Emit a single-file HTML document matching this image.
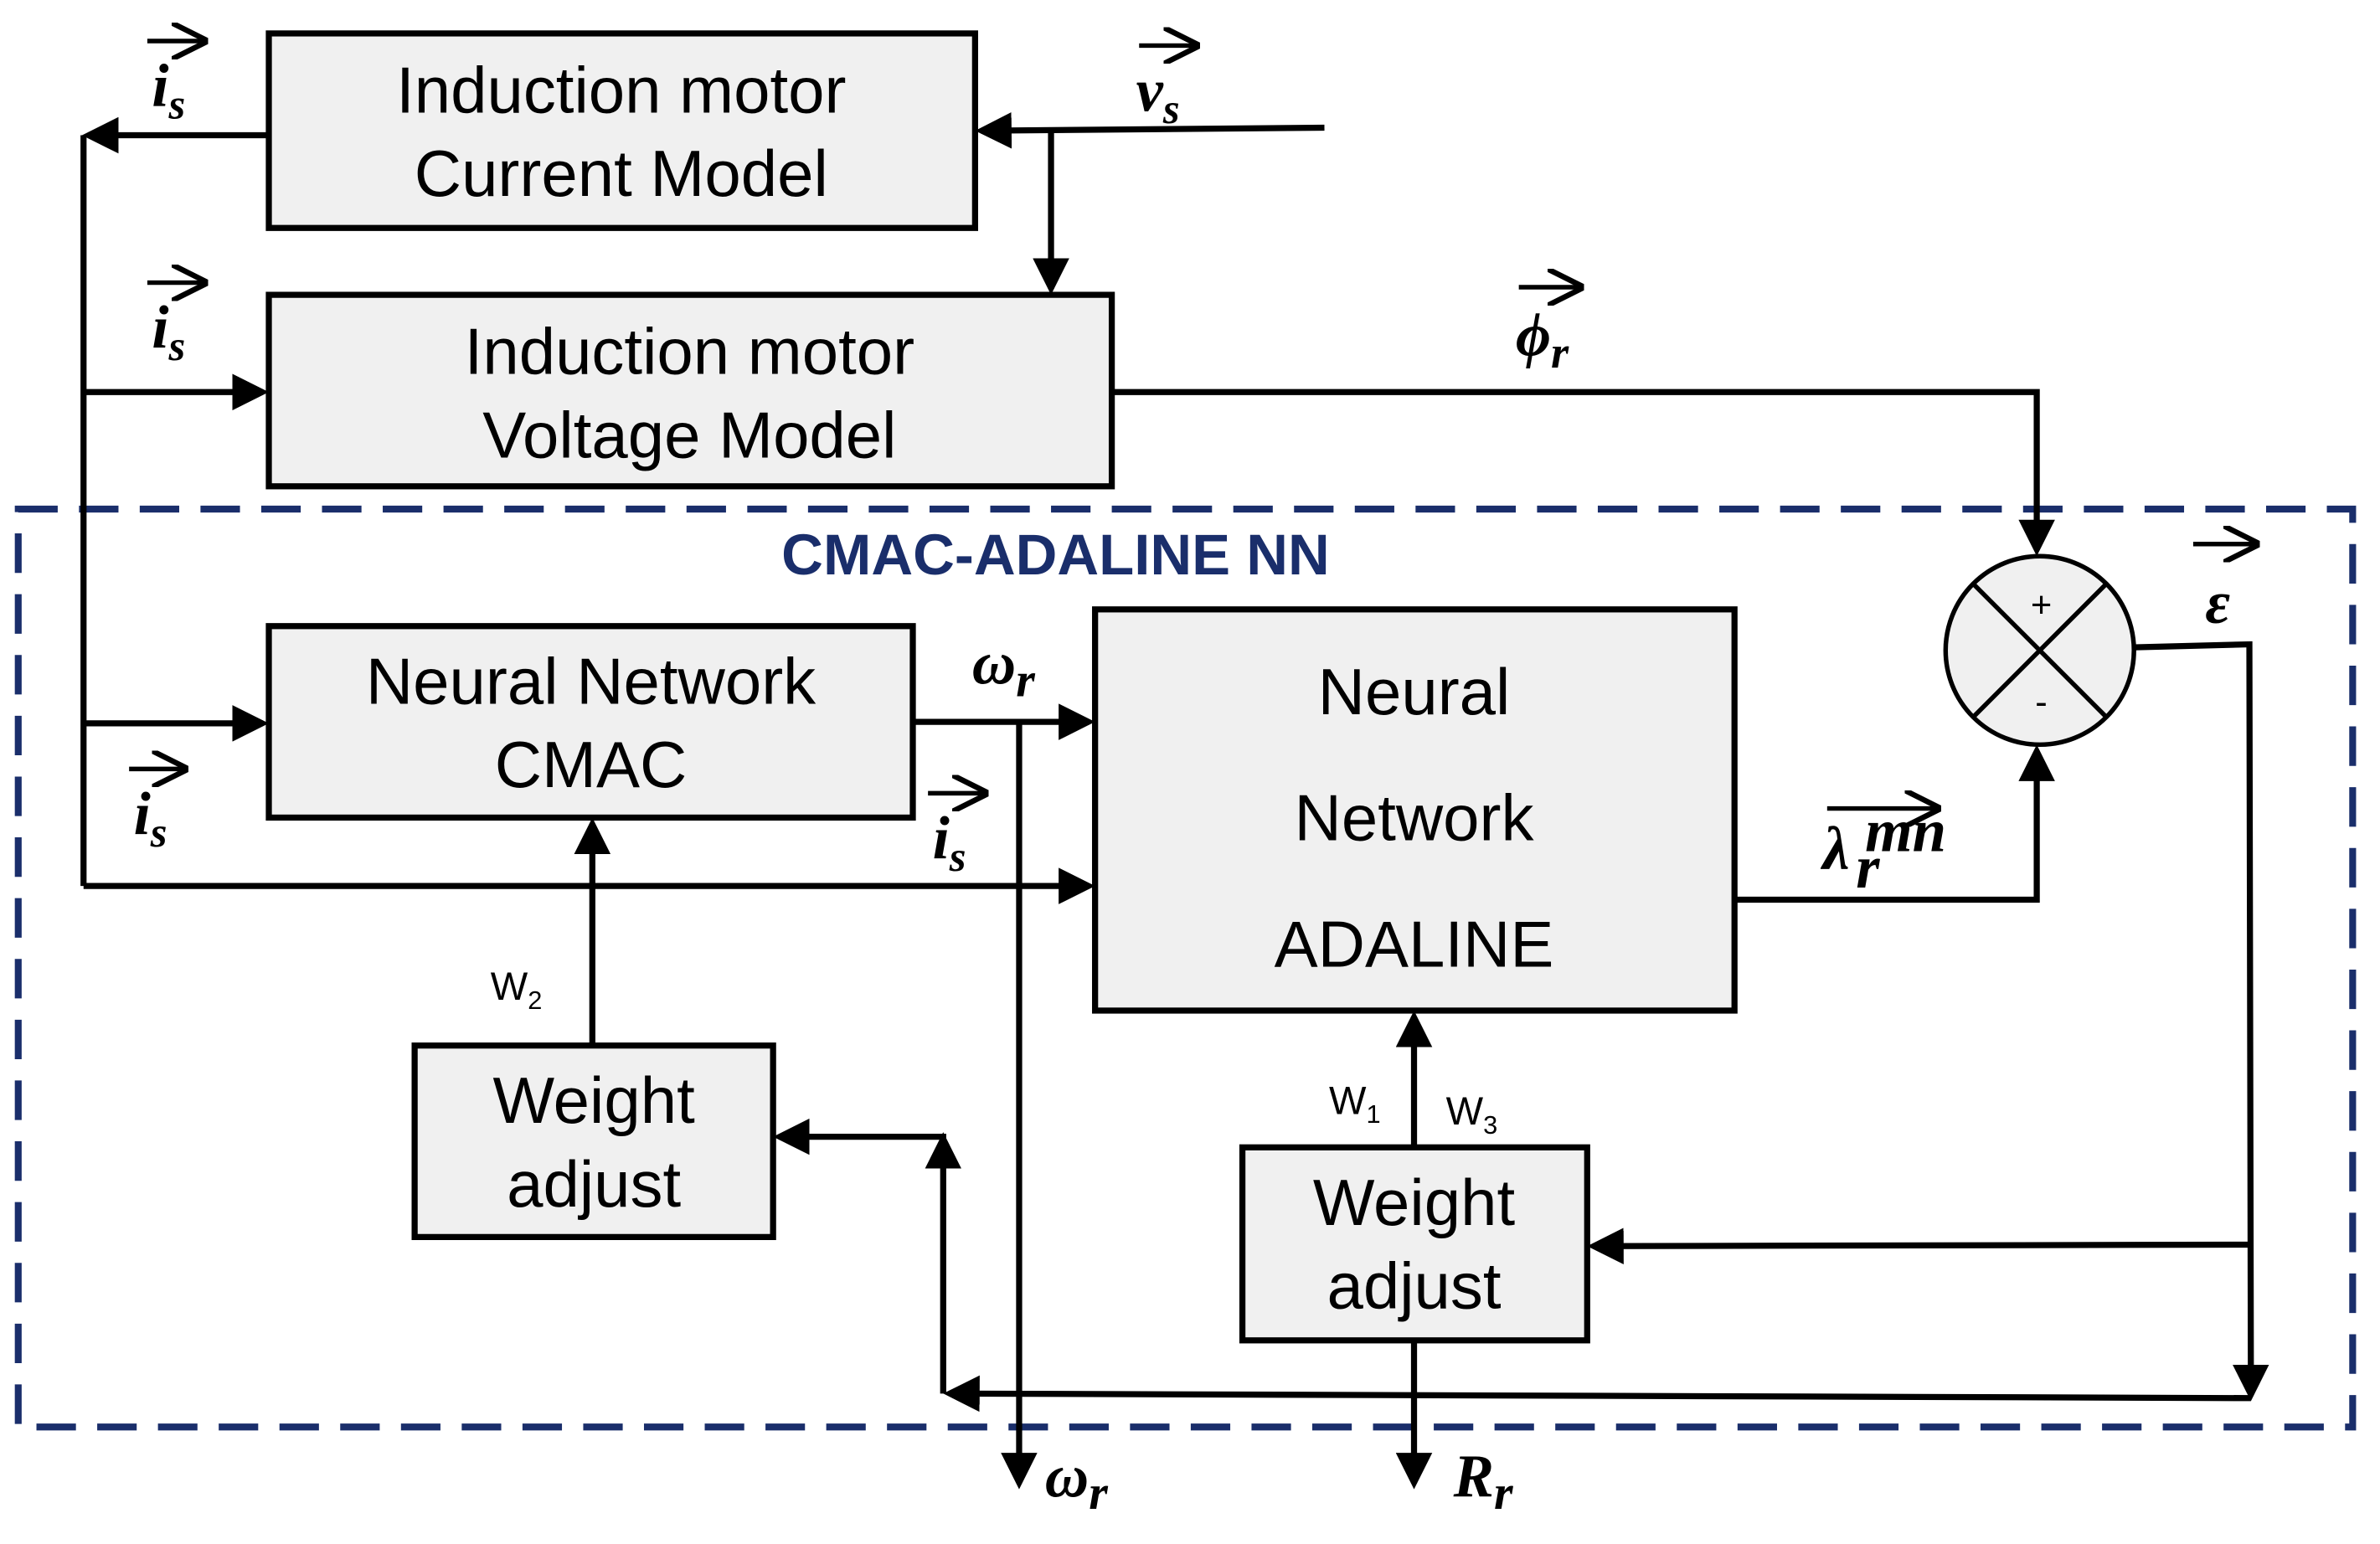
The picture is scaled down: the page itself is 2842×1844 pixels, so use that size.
<!DOCTYPE html>
<html><head><meta charset="utf-8"><style>
html,body{margin:0;padding:0;background:#fff;}
svg{display:block;}
.box{fill:#f0f0f0;stroke:#000;stroke-width:4;}
.ln{fill:none;stroke:#000;stroke-width:4;}
.t{font-family:"Liberation Sans",sans-serif;font-size:43px;fill:#000;text-anchor:middle;}
.m{font-family:"Liberation Serif",serif;font-style:italic;font-weight:bold;font-size:40px;fill:#000;}
.s{font-family:"Liberation Sans",sans-serif;font-size:26px;fill:#000;}
</style></head><body>
<svg width="2842" height="1844" viewBox="0 0 1567 1016" preserveAspectRatio="none" xmlns="http://www.w3.org/2000/svg">
<defs>
<marker id="a" markerWidth="6" markerHeight="6" refX="5" refY="3" orient="auto" markerUnits="strokeWidth"><path d="M0,0 L6,3 L0,6 z" fill="#000"/></marker>
<marker id="b" markerWidth="8" markerHeight="8" refX="7" refY="4" orient="auto" markerUnits="strokeWidth"><path d="M0,0 L8,4 L0,8" fill="none" stroke="#000" stroke-width="1.2"/></marker>
</defs>
<rect x="12" y="335" width="1537" height="604" fill="none" stroke="#1a2e6b" stroke-width="4.5" stroke-dasharray="26,14"/>
<text x="695" y="378" font-family="Liberation Sans,sans-serif" font-weight="bold" font-size="38" fill="#1a2e6b" text-anchor="middle">CMAC-ADALINE NN</text>

<rect class="box" x="177" y="22" width="465" height="128"/>
<text class="t" x="409" y="74">Induction motor</text><text class="t" x="409" y="129">Current Model</text>
<rect class="box" x="177" y="194" width="555" height="126"/>
<text class="t" x="454" y="246">Induction motor</text><text class="t" x="454" y="301">Voltage Model</text>
<rect class="box" x="177" y="412" width="424" height="126"/>
<text class="t" x="389" y="463">Neural Network</text><text class="t" x="389" y="518">CMAC</text>
<rect class="box" x="721" y="401" width="421" height="264"/>
<text class="t" x="931" y="470">Neural</text><text class="t" x="931" y="553">Network</text><text class="t" x="931" y="636">ADALINE</text>
<rect class="box" x="273" y="688" width="236" height="126"/>
<text class="t" x="391" y="739">Weight</text><text class="t" x="391" y="794">adjust</text>
<rect class="box" x="818" y="755" width="227" height="127"/>
<text class="t" x="931" y="806">Weight</text><text class="t" x="931" y="861">adjust</text>

<circle cx="1343" cy="428" r="62" fill="#f0f0f0" stroke="#000" stroke-width="3"/>
<line x1="1299" y1="384" x2="1387" y2="472" stroke="#000" stroke-width="3"/>
<line x1="1387" y1="384" x2="1299" y2="472" stroke="#000" stroke-width="3"/>
<text x="1344" y="406" font-family="Liberation Sans,sans-serif" font-size="24" text-anchor="middle">+</text>
<text x="1344" y="470" font-family="Liberation Sans,sans-serif" font-size="24" text-anchor="middle">-</text>

<path class="ln" d="M872,84 L646,86" marker-end="url(#a)"/>
<path class="ln" d="M692,86 L692,190" marker-end="url(#a)"/>
<path class="ln" d="M177,89 L58,89" marker-end="url(#a)"/>
<path class="ln" d="M55,89 L55,583"/>
<path class="ln" d="M55,258 L173,258" marker-end="url(#a)"/>
<path class="ln" d="M55,476 L173,476" marker-end="url(#a)"/>
<path class="ln" d="M55,583 L717,583" marker-end="url(#a)"/>
<path class="ln" d="M732,258 L1341,258 L1341,362" marker-end="url(#a)"/>
<path class="ln" d="M601,475 L717,475" marker-end="url(#a)"/>
<path class="ln" d="M671,475 L671,976" marker-end="url(#a)"/>
<path class="ln" d="M1142,592 L1341,592 L1341,494" marker-end="url(#a)"/>
<path class="ln" d="M1405,426 L1481,424 L1482,918" marker-end="url(#a)"/>
<path class="ln" d="M1481,819 L1049,820" marker-end="url(#a)"/>
<path class="ln" d="M1482,920 L625,917" marker-end="url(#a)"/>
<path class="ln" d="M621,917 L621,749" marker-end="url(#a)"/>
<path class="ln" d="M623,748 L513,748" marker-end="url(#a)"/>
<path class="ln" d="M390,688 L390,542" marker-end="url(#a)"/>
<path class="ln" d="M931,755 L931,669" marker-end="url(#a)"/>
<path class="ln" d="M931,882 L931,976" marker-end="url(#a)"/>

<g stroke="#000" stroke-width="3" marker-end="url(#b)">
<line x1="97" y1="27" x2="134" y2="27"/>
<line x1="750" y1="30" x2="787" y2="30"/>
<line x1="97" y1="186" x2="134" y2="186"/>
<line x1="1000" y1="189" x2="1040" y2="189"/>
<line x1="85" y1="506" x2="121" y2="506"/>
<line x1="611" y1="522" x2="648" y2="522"/>
<line x1="1444" y1="358" x2="1485" y2="358"/>
<line x1="1203" y1="532" x2="1275" y2="532"/>
</g>
<text class="m" x="100" y="70">i<tspan font-size="28" dy="8">s</tspan></text>
<text class="m" x="748" y="73">v<tspan font-size="28" dy="8">s</tspan></text>
<text class="m" x="100" y="229">i<tspan font-size="28" dy="8">s</tspan></text>
<text class="m" x="998" y="234">ϕ<tspan font-size="30" dy="8">r</tspan></text>
<text class="m" x="88" y="549">i<tspan font-size="28" dy="8">s</tspan></text>
<text class="m" x="614" y="565">i<tspan font-size="28" dy="8">s</tspan></text>
<text class="m" x="1452" y="410">ε</text>
<text class="m" x="1200" y="572" font-weight="normal">λ</text>
<text class="m" x="1222" y="584" font-weight="normal" font-size="30">r</text>
<text class="m" x="1228" y="560" font-weight="normal" font-size="30">mn</text>
<text class="m" x="640" y="450" font-weight="normal">ω<tspan font-size="32" dy="8">r</tspan></text>
<text class="m" x="688" y="985" font-weight="normal">ω<tspan font-size="32" dy="8">r</tspan></text>
<text class="m" x="957" y="985" font-weight="normal">R<tspan font-size="32" dy="8">r</tspan></text>
<text class="s" x="323" y="658">W<tspan font-size="17" dy="6">2</tspan></text>
<text class="s" x="875" y="733">W<tspan font-size="17" dy="6">1</tspan></text>
<text class="s" x="952" y="740">W<tspan font-size="17" dy="6">3</tspan></text>
</svg>
</body></html>
